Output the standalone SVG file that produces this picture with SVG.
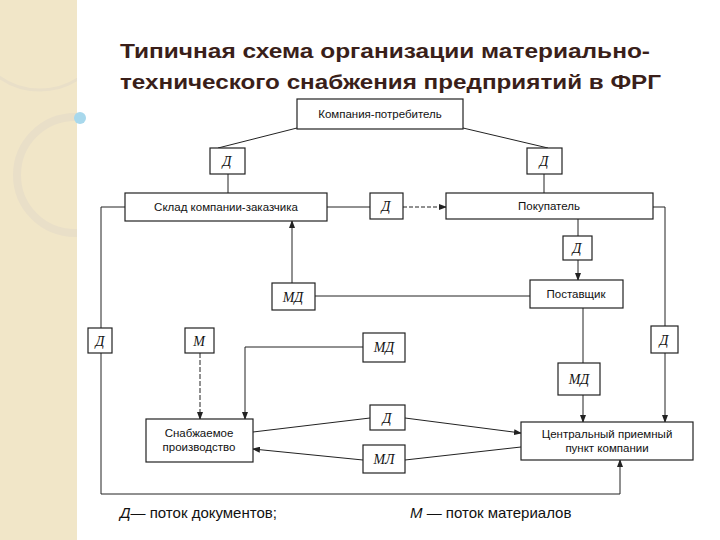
<svg xmlns="http://www.w3.org/2000/svg" width="720" height="540" viewBox="0 0 720 540">
<style>
.b{fill:#fff;stroke:#222;stroke-width:1.2}
.t{font-family:"Liberation Sans",Arial,sans-serif;font-size:11.5px;fill:#111;text-anchor:middle}
.i{font-family:"Liberation Serif","Times New Roman",serif;font-style:italic;font-size:14px;fill:#111;text-anchor:middle}
.c{fill:none;stroke:#222;stroke-width:1}
.h{font-family:"Liberation Sans",Arial,sans-serif;font-weight:bold;font-size:21px;fill:#3a1f1a}
.l{font-family:"Liberation Sans",Arial,sans-serif;font-size:15px;fill:#111}
</style>
<defs><marker id="a" markerWidth="8" markerHeight="6" refX="7" refY="3" orient="auto"><path d="M0,0L8,3L0,6z" fill="#222"/></marker>
<clipPath id="s"><rect width="77" height="540"/></clipPath></defs>
<rect width="720" height="540" fill="#fff"/>
<rect width="77" height="540" fill="#f1e6c8"/>
<g clip-path="url(#s)" fill="none" stroke="#e9dfc8" stroke-width="8">
<circle cx="75" cy="175" r="58"/>
<circle cx="40" cy="20" r="70" stroke-width="3"/>
</g>
<circle cx="80" cy="118" r="6" fill="#a8d8ec"/>
<text class="h" x="120" y="58" textLength="530" lengthAdjust="spacingAndGlyphs">Типичная схема организации материально-</text>
<text class="h" x="120" y="89" textLength="541" lengthAdjust="spacingAndGlyphs">технического снабжения предприятий в ФРГ</text>
<g id="connectors">
<path class="c" d="M297,128L218,148M463,128L548,148"/>
<path class="c" d="M228,174V193M544,174V193M578,260V280" marker-end="url(#a)"/>
<path class="c" d="M327,207H370"/>
<path class="c" d="M403,207H446" stroke-dasharray="4,2" marker-end="url(#a)"/>
<path class="c" d="M578,219V236"/>
<path class="c" d="M315,296H530"/>
<path class="c" d="M292,283V221" marker-end="url(#a)"/>
<path class="c" d="M125,207H101V494H620V460" marker-end="url(#a)"/>
<path class="c" d="M653,207H665V422" marker-end="url(#a)"/>
<path class="c" d="M583,308V422" marker-end="url(#a)"/>
<path class="c" d="M200,353V419" stroke-dasharray="5,2" marker-end="url(#a)"/>
<path class="c" d="M363,347H245V419" marker-end="url(#a)"/>
<path class="c" d="M253,432L370,418"/>
<path class="c" d="M405,418L521,433" marker-end="url(#a)"/>
<path class="c" d="M521,447L405,460"/>
<path class="c" d="M363,460L253,449" marker-end="url(#a)"/>
</g>
<g id="n1"><rect class="b" x="297" y="99" width="166" height="30"/><text class="t" x="380" y="118">Компания-потребитель</text></g>
<g id="n2"><rect class="b" x="210" y="148" width="35" height="26"/><text class="i" x="227" y="166">Д</text></g>
<g id="n3"><rect class="b" x="527" y="148" width="35" height="26"/><text class="i" x="544" y="166">Д</text></g>
<g id="n4"><rect class="b" x="125" y="193" width="202" height="28"/><text class="t" x="226" y="211">Склад компании-заказчика</text></g>
<g id="n5"><rect class="b" x="370" y="193" width="33" height="26"/><text class="i" x="386" y="211">Д</text></g>
<g id="n6"><rect class="b" x="446" y="193" width="207" height="26"/><text class="t" x="549" y="210">Покупатель</text></g>
<g id="n7"><rect class="b" x="563" y="236" width="29" height="24"/><text class="i" x="577" y="253">Д</text></g>
<g id="n8"><rect class="b" x="530" y="280" width="93" height="28"/><text class="t" x="576" y="298">Поставщик</text></g>
<g id="n9"><rect class="b" x="272" y="283" width="43" height="27"/><text class="i" x="293" y="302">МД</text></g>
<g id="n10"><rect class="b" x="88" y="328" width="24" height="25"/><text class="i" x="100" y="346">Д</text></g>
<g id="n11"><rect class="b" x="185" y="328" width="29" height="25"/><text class="i" x="199" y="346">М</text></g>
<g id="n12"><rect class="b" x="363" y="333" width="42" height="29"/><text class="i" x="384" y="352">МД</text></g>
<g id="n13"><rect class="b" x="651" y="326" width="27" height="27"/><text class="i" x="664" y="345">Д</text></g>
<g id="n14"><rect class="b" x="558" y="363" width="42" height="32"/><text class="i" x="579" y="384">МД</text></g>
<g id="n15"><rect class="b" x="146" y="419" width="107" height="43"/><text class="t" x="199" y="437">Снабжаемое</text><text class="t" x="199" y="451">производство</text></g>
<g id="n16"><rect class="b" x="370" y="405" width="35" height="25"/><text class="i" x="387" y="423">Д</text></g>
<g id="n17"><rect class="b" x="363" y="445" width="42" height="28"/><text class="i" x="384" y="464">МЛ</text></g>
<g id="n18"><rect class="b" x="521" y="422" width="172" height="38"/><text class="t" x="607" y="438">Центральный приемный</text><text class="t" x="607" y="452">пункт компании</text></g>
<text class="l" x="120" y="518"><tspan font-style="italic">Д</tspan>— поток документов;</text>
<text class="l" x="410" y="518"><tspan font-style="italic">М</tspan> — поток материалов</text>
</svg>
